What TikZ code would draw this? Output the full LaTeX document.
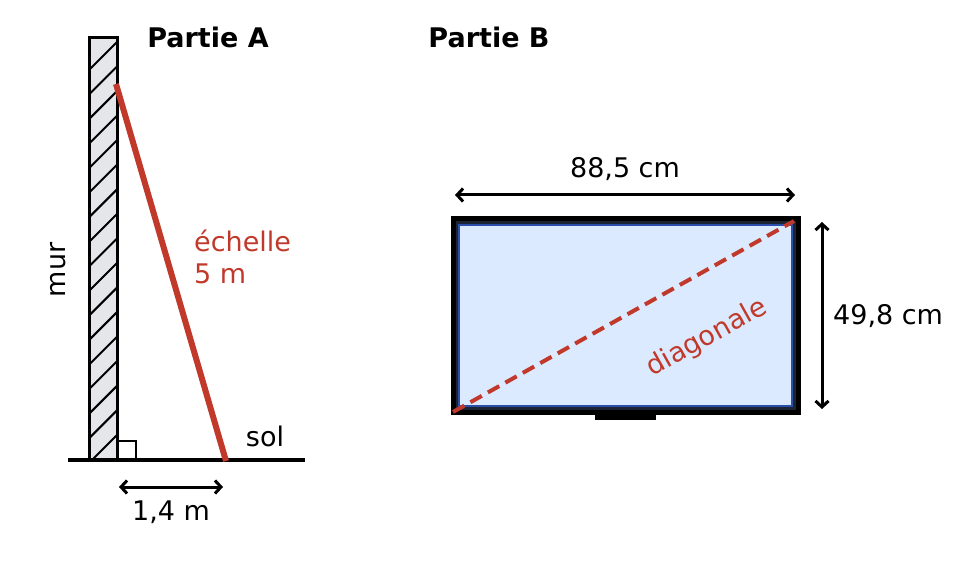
\documentclass[tikz,border=0pt]{standalone}
\usepackage{fontspec}
\setmainfont{DejaVu Sans}
\usepackage{tikz}
\usetikzlibrary{arrows.meta, positioning, calc}
\definecolor{EchRouge}{HTML}{C0392B}
\definecolor{MurGris}{HTML}{E4E6EA}
\definecolor{EcranBleu}{HTML}{DBEAFE}
\definecolor{BordBleu}{HTML}{2B4EAA}
\definecolor{CadreNoir}{HTML}{1C2433}

\begin{document}
\begin{tikzpicture}[x=1pt, y=-1pt,
    every node/.style={font=\fontsize{27}{32}\selectfont, inner sep=0pt},
    titre/.style={font=\fontsize{27}{32}\selectfont\bfseries},
    cote/.style={line width=3pt, {Straight Barb[length=6pt,width=13pt]}-{Straight Barb[length=6pt,width=13pt]}}]
    \useasboundingbox (0,0) rectangle (975,561);
    % Partie A
    \node[titre] (tA) at (208,37) {Partie A};
    \coordinate (murhg) at (89,38);
    \coordinate (murbd) at (117,460);
    \fill[MurGris] (murhg) rectangle (murbd);
    \begin{scope}
        \clip (murhg) rectangle (murbd);
        \foreach \k in {0,...,16}
            \draw[line width=2pt] (89,42+24.56*\k+28) -- (117,42+24.56*\k);
    \end{scope}
    \draw[line width=3pt] (murhg) rectangle (murbd);
    \draw[line width=2pt] (117,441) -| (136,460);
    \coordinate (solg) at (68,460);
    \coordinate (sold) at (305,460);
    \draw[line width=4pt] (solg) -- (sold);
    \coordinate (ehaut) at (116,84);
    \coordinate (ebas) at (226,461);
    \draw[line width=6pt, EchRouge] (ehaut) -- (ebas);
    \node[rotate=90] (mur) at (58,270) {mur};
    \node[text=EchRouge, align=left, anchor=west] (ech) at (194,257) {échelle\\5 m};
    \node (sol) at (265,436) {sol};
    \coordinate (dg) at (119,487);
    \coordinate (dd) at (223,487);
    \draw[cote] (dg) -- (dd);
    \node (dist) at (171,512) {1,4 m};
    % Partie B
    \node[titre] (tB) at (489,37) {Partie B};
    \fill (595,409) rectangle (656,420);
    \draw[line width=5pt, fill=CadreNoir] (453,219) rectangle (798,412);
    \draw[line width=2pt, draw=BordBleu, fill=EcranBleu] (459,225) rectangle (792,406);
    \coordinate (tvbg) at (453,412);
    \coordinate (tvhd) at (794,221);
    \draw[line width=4pt, EchRouge, dash pattern=on 13pt off 7pt] (tvbg) -- (tvhd);
    \node[text=EchRouge, rotate=29.2] (diag) at (707,338) {diagonale};
    \coordinate (lg) at (455,195);
    \coordinate (ld) at (795,195);
    \draw[cote] (lg) -- (ld);
    \node (larg) at (625,169) {88,5 cm};
    \coordinate (hh) at (822,222);
    \coordinate (hb) at (822,409);
    \draw[cote] (hh) -- (hb);
    \node[anchor=west] (haut) at (833,316) {49,8 cm};
\end{tikzpicture}
\end{document}
